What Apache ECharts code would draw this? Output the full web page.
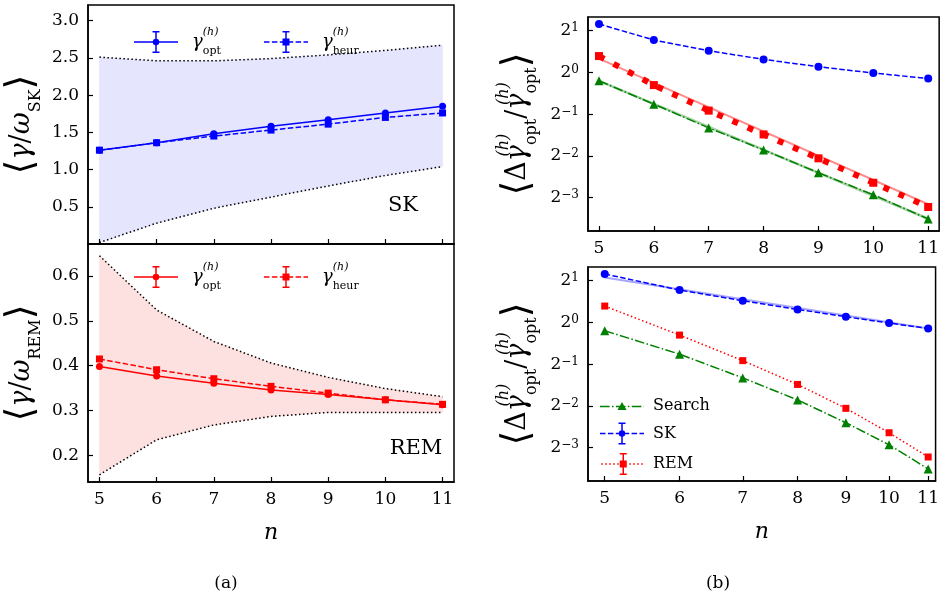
<!DOCTYPE html>
<html>
<head>
<meta charset="utf-8">
<script src="https://cdn.jsdelivr.net/npm/echarts@6/dist/echarts.min.js"></script>
<style>
  html, body { margin: 0; padding: 0; background: #fff; }
  #main { width: 942px; height: 603px; }
</style>
</head>
<body>
<div id="main"></div>
<script>
// ---- data ----
const nVals = [5, 6, 7, 8, 9, 10, 11];

// (a) top: SK
const skOpt   = [1.26, 1.36, 1.48, 1.58, 1.67, 1.76, 1.85];
const skHeur  = [1.26, 1.36, 1.45, 1.53, 1.61, 1.70, 1.76];
const skUpper = [2.51, 2.46, 2.46, 2.49, 2.54, 2.60, 2.67];
const skLower = [0.02, 0.28, 0.48, 0.63, 0.78, 0.92, 1.04];

// (a) bottom: REM
const remOpt   = [0.398, 0.377, 0.361, 0.346, 0.336, 0.324, 0.313];
const remHeur  = [0.415, 0.391, 0.371, 0.354, 0.339, 0.324, 0.314];
const remUpper = [0.645, 0.524, 0.454, 0.406, 0.374, 0.349, 0.331];
const remLower = [0.157, 0.235, 0.268, 0.287, 0.296, 0.296, 0.296];

// (b) relative gap
const relSK     = [2.235, 1.712, 1.434, 1.241, 1.099, 0.989, 0.905];
const relSearch = [0.871, 0.590, 0.398, 0.276, 0.189, 0.131, 0.0877];
const relREM    = [1.312, 0.810, 0.530, 0.357, 0.240, 0.160, 0.107];

// faint straight fits (end points)
const fitN      = [5, 11];
const fitREM    = [1.257, 0.112];
const fitSearch = [0.870, 0.088];
const fitSK     = [2.11, 0.905];

const skTicks  = [0.5, 1.0, 1.5, 2.0, 2.5, 3.0];
const remTicks = [0.2, 0.3, 0.4, 0.5, 0.6];
const pow2Ticks = [0.125, 0.25, 0.5, 1, 2];

// ---- helpers ----
const pairs = (xs, ys) => xs.map((x, i) => [x, ys[i]]);

const FONT = 'DejaVu Serif';
const BLUE = '#0000ff', RED = '#ff0000', GREEN = '#008000';
const DASH = [5.5, 2.4], DOT = [1.5, 2.5], DASHDOT = [9.6, 2.4, 1.5, 2.4];

// legend icon pieces (44 x 22 box)
function hseg(x, w) { return 'M' + x + ' 10.25h' + w + 'v1.5h' + (-w) + 'z '; }
function lineIcon(pattern) {
  if (!pattern) return hseg(0, 44);
  let s = '', x = 0, i = 0;
  while (x < 44) {
    const len = pattern[i % pattern.length];
    if (i % 2 === 0) s += hseg(x, Math.min(len, 44 - x));
    x += len; i++;
  }
  return s;
}
const errbar = 'M21.25 0h1.5v22h-1.5z M18.5 0h7v1.5h-7z M18.5 20.5h7v1.5h-7z ';
const circ = 'M25.6 11L24.5 13.5L22 14.6L19.5 13.5L18.4 11L19.5 8.5L22 7.4L24.5 8.5z ';
const sq = 'M18.5 7.5h7v7h-7z ';
const tri = 'M22 6.5L26.5 14.5L17.5 14.5z ';

const mathRich = {
  br: { fontFamily: FONT, fontSize: 38, color: '#000' },
  g:  { fontFamily: FONT, fontStyle: 'italic', fontSize: 27, lineHeight: 44, color: '#000' },
  r:  { fontFamily: FONT, fontSize: 27, color: '#000' },
  hi: { fontFamily: FONT, fontStyle: 'italic', fontSize: 16, lineHeight: 16, verticalAlign: 'top', width: 0, color: '#000' },
  lo: { fontFamily: FONT, fontSize: 16, lineHeight: 16, verticalAlign: 'bottom', color: '#000' }
};
const legRich = {
  g:  { fontFamily: FONT, fontStyle: 'italic', fontSize: 18, lineHeight: 30, color: '#000' },
  hi: { fontFamily: FONT, fontStyle: 'italic', fontSize: 11, lineHeight: 11, verticalAlign: 'top', width: 0, color: '#000' },
  lo: { fontFamily: FONT, fontSize: 11, lineHeight: 11, verticalAlign: 'bottom', color: '#000' }
};
const gammaLabel = {
  opt: '{g|γ}{hi|(h)}{lo|opt}',
  heur: '{g|γ}{hi|(h)}{lo|heur}'
};

function pow2Label(v) {
  const e = Math.round(Math.log2(v));
  return '2{s|' + (e < 0 ? '−' + (-e) : e) + '}';
}

const tickStyle = { inside: true, length: 5, lineStyle: { color: '#000', width: 1.2 } };
const axLine = { show: true, lineStyle: { color: '#000', width: 1.5 } };
const labStyle = { fontFamily: FONT, fontSize: 17, color: '#000' };

function xAx(grid, opts) {
  return Object.assign({
    gridIndex: grid, type: 'value', min: 4.8, max: 11.2,
    axisLine: axLine, splitLine: { show: false },
    axisTick: Object.assign({ customValues: nVals }, tickStyle),
    axisLabel: Object.assign({ customValues: nVals, margin: 9 }, labStyle)
  }, opts);
}

const grids = [
  { left: 88, top: 5, width: 366, height: 239 },
  { left: 88, top: 244, width: 366, height: 238 },
  { left: 588, top: 17, width: 357, height: 214 },
  { left: 588, top: 267, width: 357, height: 214 }
].map(g => Object.assign({ show: true, borderColor: '#000', borderWidth: 1.5, containLabel: false }, g));

const nName = { name: 'n', nameLocation: 'middle', nameGap: 40,
  nameTextStyle: { fontFamily: FONT, fontStyle: 'italic', fontSize: 22, color: '#000' } };

const xAxes = [
  xAx(0, { axisLabel: { show: false, customValues: nVals } }),
  xAx(1, nName),
  xAx(2, {}),
  xAx(3, Object.assign({ type: 'log', logBase: 10 }, nName))
];

const pow2Axis = grid => ({
  gridIndex: grid, type: 'log', logBase: 2, min: 0.0718, max: 2.51,
  axisLine: axLine, splitLine: { show: false }, minorTick: { show: false },
  axisTick: Object.assign({ customValues: pow2Ticks }, tickStyle),
  axisLabel: Object.assign({
    customValues: pow2Ticks, formatter: pow2Label, margin: 9,
    rich: { s: { fontFamily: FONT, fontSize: 12, verticalAlign: 'top', lineHeight: 10 } }
  }, labStyle),
  name: '{br|⟨}{r|Δ}{g|γ}{hi|(h)}{lo|opt}{r|/}{g|γ}{hi|(h)}{lo|opt}{br|⟩}',
  nameLocation: 'middle', nameRotate: 90, nameGap: 48,
  nameTextStyle: { fontFamily: FONT, fontSize: 27, color: '#000', rich: mathRich }
});

const linYAxis = (grid, min, max, ticks, sub) => ({
  gridIndex: grid, type: 'value', min: min, max: max,
  axisLine: axLine, splitLine: { show: false },
  axisTick: Object.assign({ customValues: ticks }, tickStyle),
  axisLabel: Object.assign({ customValues: ticks, formatter: v => v.toFixed(1), margin: 9 }, labStyle),
  name: '{br|⟨}{g|γ}{r|/}{g|ω}{lo|' + sub + '}{br|⟩}', nameLocation: 'middle', nameRotate: 90, nameGap: 44,
  nameTextStyle: { fontFamily: FONT, fontSize: 27, color: '#000', rich: mathRich }
});

const yAxes = [
  linYAxis(0, 0, 3.21, skTicks, 'SK'),
  linYAxis(1, 0.141, 0.671, remTicks, 'REM'),
  pow2Axis(2),
  pow2Axis(3)
];

function line(name, grid, xs, ys, color, dash, symbol, size, extra) {
  return Object.assign({
    name: name, type: 'line', xAxisIndex: grid, yAxisIndex: grid,
    data: pairs(xs, ys), color: color,
    symbol: symbol, symbolSize: size, showSymbol: symbol !== 'none',
    itemStyle: { color: color },
    lineStyle: { color: color, width: 1.5, type: dash || 'solid' },
    z: 3, animation: false
  }, extra || {});
}

// shaded region between lower and upper bound, one quad per interval
function bandFill(grid, lower, upper, fill) {
  return {
    type: 'custom', xAxisIndex: grid, yAxisIndex: grid, silent: true, z: 0, animation: false,
    data: nVals.slice(0, -1).map((n, i) => [n, lower[i], upper[i]]),
    renderItem: (params, api) => {
      const i = params.dataIndex;
      const pts = [
        api.coord([nVals[i], lower[i]]), api.coord([nVals[i + 1], lower[i + 1]]),
        api.coord([nVals[i + 1], upper[i + 1]]), api.coord([nVals[i], upper[i]])
      ];
      return { type: 'polygon', shape: { points: pts }, style: { fill: fill, stroke: fill, lineWidth: 0.6 } };
    }
  };
}
function bounds(grid, lower, upper) {
  return [
    line('_lo' + grid, grid, nVals, lower, '#000', DOT, 'none', 0, { z: 1 }),
    line('_hi' + grid, grid, nVals, upper, '#000', DOT, 'none', 0, { z: 1 })
  ];
}
function fit(grid, ys, color, width) {
  return line('_fit', grid, fitN, ys, color, null, 'none', 0,
    { silent: true, z: 2, lineStyle: { color: color, width: width } });
}

const series = [
  bandFill(0, skLower, skUpper, '#e5e5fd'),
  ...bounds(0, skLower, skUpper),
  line('skOpt', 0, nVals, skOpt, BLUE, null, 'circle', 7),
  line('skHeur', 0, nVals, skHeur, BLUE, DASH, 'rect', 7),

  bandFill(1, remLower, remUpper, '#fde1e1'),
  ...bounds(1, remLower, remUpper),
  line('remOpt', 1, nVals, remOpt, RED, null, 'circle', 7),
  line('remHeur', 1, nVals, remHeur, RED, DASH, 'rect', 7),

  fit(3, fitSK, 'rgba(0,0,255,0.35)', 2),
  line('Search', 3, nVals, relSearch, GREEN, DASHDOT, 'triangle', 9),
  line('SK', 3, nVals, relSK, BLUE, DASH, 'circle', 8),
  line('REM', 3, nVals, relREM, RED, DOT, 'rect', 7),

  fit(2, fitSearch, 'rgba(0,128,0,0.35)', 2.5),
  fit(2, fitREM, 'rgba(255,0,0,0.45)', 2),
  line('Search_b', 2, nVals, relSearch, GREEN, DASHDOT, 'triangle', 9),
  line('REM_b', 2, nVals, relREM, RED, null, 'rect', 8, { lineStyle: { color: RED, width: 6, type: [6, 10.5] } }),
  line('SK_b', 2, nVals, relSK, BLUE, DASH, 'circle', 8)
];

function legend(left, top, items, orient) {
  return {
    left: left, top: top, orient: orient || 'horizontal', itemWidth: 44, itemHeight: 22, itemGap: 7,
    selectedMode: false, symbolKeepAspect: true,
    data: items.map(it => ({ name: it.name, icon: 'path://' + it.icon, itemStyle: { borderWidth: 0 } })),
    formatter: name => (items.find(it => it.name === name) || {}).text || name,
    textStyle: { fontFamily: FONT, fontSize: 16, color: '#000', padding: [0, 0, 0, 9], rich: legRich }
  };
}

const legends = [
  legend(129, 22, [{ name: 'skOpt', icon: lineIcon(null) + errbar + circ, text: gammaLabel.opt }]),
  legend(259, 22, [{ name: 'skHeur', icon: lineIcon(DASH) + errbar + sq, text: gammaLabel.heur }]),
  legend(129, 257, [{ name: 'remOpt', icon: lineIcon(null) + errbar + circ, text: gammaLabel.opt }]),
  legend(259, 257, [{ name: 'remHeur', icon: lineIcon(DASH) + errbar + sq, text: gammaLabel.heur }]),
  Object.assign(legend(595, 393, [
    { name: 'Search', icon: lineIcon(DASHDOT) + tri, text: 'Search' },
    { name: 'SK', icon: lineIcon(DASH) + errbar + circ, text: 'SK' },
    { name: 'REM', icon: lineIcon(DOT) + errbar + sq, text: 'REM' }
  ], 'vertical'), { itemGap: 8.5 })
];
legends[4].textStyle.padding = [0, 0, 0, 4];

const textEl = (x, y, text, size) => ({
  type: 'text', x: x, y: y, silent: true,
  style: { text: text, fontFamily: FONT, fontSize: size, fill: '#000', align: 'center', verticalAlign: 'middle' }
});

const option = {
  animation: false,
  backgroundColor: '#fff',
  grid: grids,
  xAxis: xAxes,
  yAxis: yAxes,
  legend: legends,
  series: series,
  graphic: [
    textEl(403, 206, 'SK', 21),
    textEl(416, 449, 'REM', 21),
    textEl(226, 584, '(a)', 17),
    textEl(718, 584, '(b)', 17)
  ]
};

const chart = echarts.init(document.getElementById('main'));
chart.setOption(option);
</script>
</body>
</html>
